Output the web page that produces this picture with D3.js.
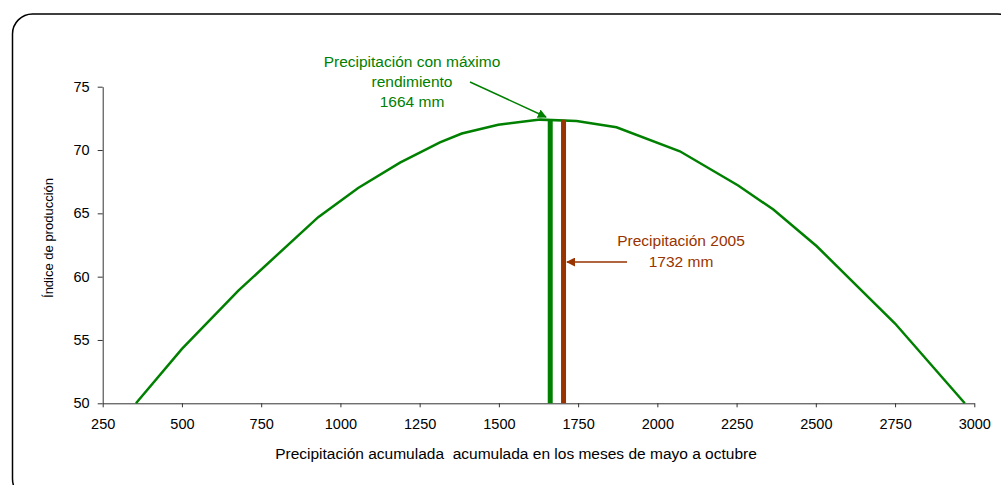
<!DOCTYPE html>
<html>
<head>
<meta charset="utf-8">
<script src="https://cdn.jsdelivr.net/npm/d3@7"></script>
<style>
  body { margin: 0; background: #fff; }
  text { font-family: "Liberation Sans", Arial, sans-serif; }
</style>
</head>
<body>
<div id="my_dataviz"></div>
<script>
// precipitation (mm) vs production index
var precip = [355, 500, 678, 930, 1056, 1188, 1314, 1383, 1498, 1630, 1745, 1871, 2071, 2255, 2366, 2503, 2750, 2970]
var indice = [50, 54.3, 58.9, 64.7, 67.0, 69.0, 70.6, 71.3, 72.0, 72.4, 72.3, 71.8, 69.9, 67.2, 65.3, 62.4, 56.3, 50]

// vertical markers (position as drawn, top value)
var markerX = [1662, 1704]
var markerTop = [72.4, 72.4]
var markerColor = ["#008000", "#993300"]

var xTicks = [250, 500, 750, 1000, 1250, 1500, 1750, 2000, 2250, 2500, 2750, 3000]
var yTicks = [50, 55, 60, 65, 70, 75]

var greenLabel = ["Precipitación con máximo", "rendimiento", "1664 mm"]
var brownLabel = ["Precipitación 2005", "1732 mm"]

var W = 1001, H = 485

var svg = d3.select("#my_dataviz")
  .append("svg")
    .attr("width", W)
    .attr("height", H)

svg.append("defs").selectAll("marker")
  .data([["arrG", "#008000"], ["arrB", "#993300"]])
  .enter().append("marker")
    .attr("id", function(d) { return d[0]; })
    .attr("viewBox", "0 0 10 10")
    .attr("refX", 9).attr("refY", 5)
    .attr("markerWidth", 6).attr("markerHeight", 6)
    .attr("markerUnits", "strokeWidth")
    .attr("orient", "auto")
  .append("path")
    .attr("d", "M0,0 L10,5 L0,10 z")
    .attr("fill", function(d) { return d[1]; })

// outer frame
svg.append("rect")
  .attr("x", 12.5).attr("y", 14)
  .attr("width", 1005).attr("height", 485)
  .attr("rx", 20).attr("ry", 20)
  .attr("fill", "none")
  .attr("stroke", "#000")
  .attr("stroke-width", 1.5)

var x = d3.scaleLinear().domain([250, 3000]).range([102.7, 974.3])
var y = d3.scaleLinear().domain([50, 75]).range([403.3, 86.7])

var g = svg.append("g")

// axes
g.append("g")
  .attr("transform", "translate(0," + y(50) + ")")
  .call(d3.axisBottom(x).tickValues(xTicks).tickFormat(d3.format("d"))
    .tickSize(4).tickSizeOuter(0).tickPadding(11))
g.append("g")
  .attr("transform", "translate(" + x(250) + ",0)")
  .call(d3.axisLeft(y).tickValues(yTicks).tickFormat(d3.format("d"))
    .tickSize(5).tickSizeOuter(0).tickPadding(8))

g.selectAll(".domain, .tick line").attr("stroke", "#333").attr("stroke-width", 1)
g.selectAll(".tick text").attr("font-size", 14.5).attr("fill", "#000")
  .style("font-family", '"Liberation Sans", Arial, sans-serif')

// curve
var pts = precip.map(function(d, i) { return [d, indice[i]]; })
g.append("path")
  .datum(pts)
  .attr("fill", "none")
  .attr("stroke", "#008000")
  .attr("stroke-width", 2.5)
  .attr("d", d3.line()
    .x(function(d) { return x(d[0]); })
    .y(function(d) { return y(d[1]); }))

// vertical bars
g.selectAll(".bar")
  .data(markerX)
  .enter().append("line")
    .attr("x1", function(d) { return x(d); })
    .attr("x2", function(d) { return x(d); })
    .attr("y1", y(50))
    .attr("y2", function(d, i) { return y(markerTop[i]); })
    .attr("stroke", function(d, i) { return markerColor[i]; })
    .attr("stroke-width", 5)

// annotations
g.append("text")
  .attr("x", 412).attr("y", 66.5)
  .attr("text-anchor", "middle")
  .attr("font-size", 15.5)
  .attr("fill", "#008000")
  .selectAll("tspan")
  .data(greenLabel)
  .enter().append("tspan")
    .attr("x", 412)
    .attr("dy", function(d, i) { return i ? 20 : 0; })
    .text(function(d) { return d; })

g.append("line")
  .attr("x1", 470).attr("y1", 82)
  .attr("x2", 546).attr("y2", 117)
  .attr("stroke", "#008000").attr("stroke-width", 1.5)
  .attr("marker-end", "url(#arrG)")

g.append("text")
  .attr("x", 681).attr("y", 245.5)
  .attr("text-anchor", "middle")
  .attr("font-size", 15.5)
  .attr("fill", "#993300")
  .selectAll("tspan")
  .data(brownLabel)
  .enter().append("tspan")
    .attr("x", 681)
    .attr("dy", function(d, i) { return i ? 21.5 : 0; })
    .text(function(d) { return d; })

g.append("line")
  .attr("x1", 627).attr("y1", 262)
  .attr("x2", 567).attr("y2", 262)
  .attr("stroke", "#993300").attr("stroke-width", 1.5)
  .attr("marker-end", "url(#arrB)")

// axis titles
g.append("text")
  .attr("x", 516).attr("y", 458.5)
  .attr("text-anchor", "middle")
  .attr("font-size", 15.5)
  .attr("fill", "#000")
  .style("white-space", "pre")
  .text("Precipitación acumulada  acumulada en los meses de mayo a octubre")

g.append("text")
  .attr("transform", "translate(53,238) rotate(-90)")
  .attr("text-anchor", "middle")
  .attr("font-size", 13)
  .attr("fill", "#000")
  .text("Índice de producción")
</script>
</body>
</html>
